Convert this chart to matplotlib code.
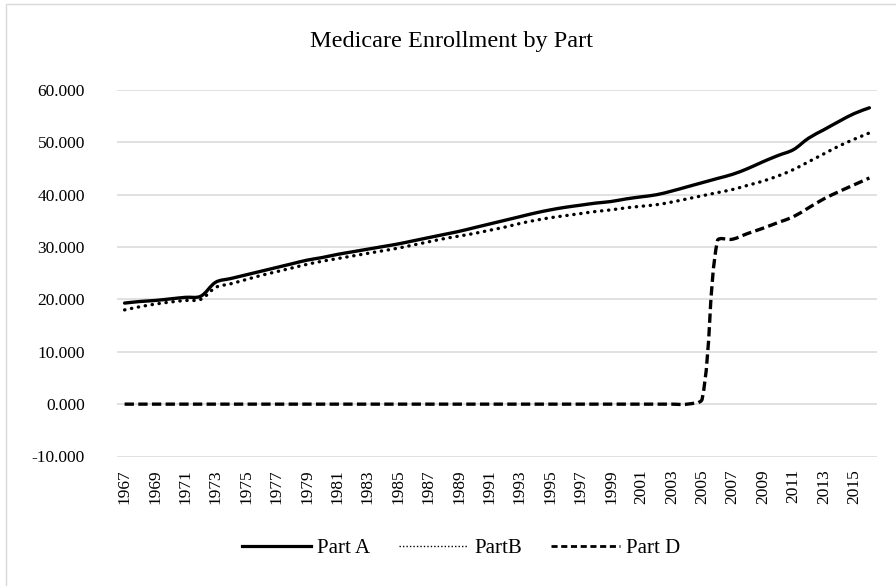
import numpy as np
import matplotlib
matplotlib.use('Agg')
from matplotlib import pyplot as plt
from matplotlib.path import Path
from matplotlib.patches import PathPatch, Rectangle
from matplotlib.lines import Line2D

plt.rcParams['font.family'] = ['Liberation Serif', 'DejaVu Serif']

years = list(range(1967, 2017))

part_a = [19.3, 19.6, 19.8, 20.1, 20.4, 20.6, 23.3, 24.0, 24.7, 25.4,
          26.1, 26.8, 27.5, 28.0, 28.6, 29.1, 29.6, 30.1, 30.6, 31.2,
          31.8, 32.4, 33.0, 33.7, 34.4, 35.1, 35.8, 36.5, 37.1, 37.6,
          38.0, 38.4, 38.7, 39.2, 39.6, 40.0, 40.7, 41.5, 42.3, 43.1,
          43.9, 45.0, 46.3, 47.5, 48.6, 50.8, 52.4, 54.0, 55.5, 56.6]

part_b = [18.0, 18.6, 19.1, 19.5, 19.8, 20.0, 22.3, 23.0, 23.8, 24.6,
          25.3, 26.0, 26.7, 27.3, 27.8, 28.3, 28.8, 29.3, 29.8, 30.4,
          31.0, 31.6, 32.1, 32.6, 33.2, 33.8, 34.5, 35.1, 35.6, 36.0,
          36.4, 36.8, 37.1, 37.5, 37.8, 38.1, 38.6, 39.2, 39.8, 40.4,
          41.0, 41.8, 42.6, 43.6, 44.8, 46.3, 47.8, 49.3, 50.6, 51.8]

part_d = [0.0] * 38 + [1.0, 31.2, 31.5, 32.6, 33.6, 34.7, 35.8, 37.5,
                       39.2, 40.6, 41.9, 43.2]

SX, SY = 15.2, 5.233   # px per category / per unit, used for the smoothing metric


def smooth_path(y):
    # excel-like smoothed line: cubic bezier, tangents weighted by chord length
    x = np.arange(len(y), dtype=float)
    y = np.asarray(y, dtype=float)
    px, py = x * SX, y * SY
    n = len(y)
    verts = [(x[0], y[0])]
    codes = [Path.MOVETO]
    for i in range(n - 1):
        a0 = max(i - 1, 0); b1 = min(i + 2, n - 1)
        # out control of point i
        l1 = np.hypot(px[i] - px[a0], py[i] - py[a0])
        l2 = np.hypot(px[i + 1] - px[i], py[i + 1] - py[i])
        f = l2 / (l1 + l2) if l1 + l2 > 0 else 0.5
        if i == 0:
            f = 0.5
        c1 = (x[i] + (x[i + 1] - x[a0]) * f / 3, y[i] + (y[i + 1] - y[a0]) * f / 3)
        # in control of point i+1
        l3 = np.hypot(px[b1] - px[i + 1], py[b1] - py[i + 1])
        g = l2 / (l2 + l3) if l2 + l3 > 0 else 0.5
        if i + 1 == n - 1:
            g = 0.5
        c2 = (x[i + 1] - (x[b1] - x[i]) * g / 3, y[i + 1] - (y[b1] - y[i]) * g / 3)
        verts += [c1, c2, (x[i + 1], y[i + 1])]
        codes += [Path.CURVE4] * 3
    return Path(verts, codes)


fig = plt.figure(figsize=(8.96, 5.86), dpi=100)
ax = fig.add_axes([117 / 896, 1 - 456.5 / 586, 760 / 896, 366.5 / 586])

# chart border
fig.add_artist(Rectangle((5.5 / 896, -0.1), 1.2, 1.1 - 3.5 / 586,
                         transform=fig.transFigure, fill=False,
                         edgecolor='#d9d9d9', lw=1.0))

ax.set_xlim(-0.5, len(years) - 0.5)
ax.set_ylim(-10, 60)
yt = np.arange(-10, 61, 10)
ax.set_yticks(yt)
ax.set_yticklabels([f'{v:.3f}' for v in yt])
ax.set_xticks(range(0, len(years), 2))
ax.set_xticklabels([str(v) for v in years[::2]], rotation=90, va='top')
ax.tick_params(length=0, labelsize=12.5, colors='#000000')
ax.tick_params(axis='y', pad=23)
ax.tick_params(axis='x', pad=9)
ax.grid(axis='y', color='#d9d9d9', lw=1.1)
ax.set_axisbelow(True)
for s in ax.spines.values():
    s.set_visible(False)

styles = [
    (part_a, dict(linestyle='-', capstyle='round')),
    (part_b, dict(linestyle=(0, (0.1, 2.0)), capstyle='round')),
    (part_d, dict(linestyle=(0, (2.8, 1.3)), capstyle='butt')),
]
for vals, st in styles:
    ax.add_patch(PathPatch(smooth_path(vals), fill=False, edgecolor='black',
                           lw=2.4, joinstyle='round', **st))

handles = [
    Line2D([], [], color='black', lw=2.3, linestyle='-'),
    Line2D([], [], color='black', lw=1.0, linestyle=(0, (1, 1.5))),
    Line2D([], [], color='black', lw=2.0, linestyle=(0, (2.2, 1.3))),
]
fig.legend(handles, ['Part A', 'PartB', 'Part D'], loc='center',
           bbox_to_anchor=(461 / 896, 1 - 548 / 586), ncol=3, frameon=False,
           fontsize=15, handlelength=3.3, handletextpad=0.3, columnspacing=1.4)

fig.text(451 / 896, 1 - 42 / 586, 'Medicare Enrollment by Part',
         ha='center', va='center', fontsize=17.5)

plt.savefig('out.png', dpi=100)
